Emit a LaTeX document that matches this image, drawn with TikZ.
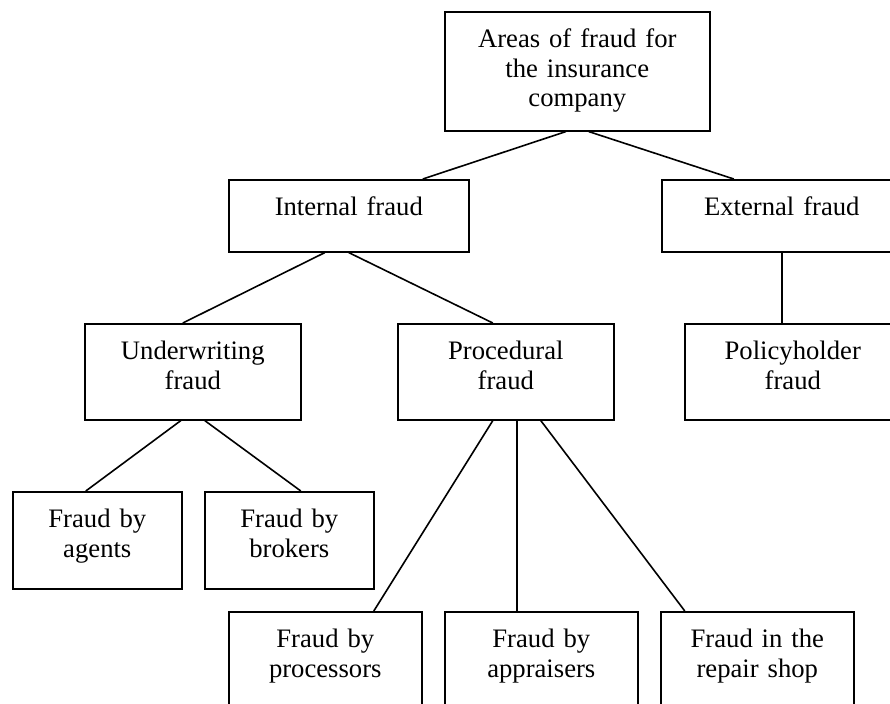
\documentclass[tikz,border=0pt]{standalone}
\usepackage{fontspec}
\setmainfont{Liberation Serif}
\usetikzlibrary{calc}

\begin{document}
\begin{tikzpicture}[x=0.75pt,y=-0.75pt,
	box/.style 2 args={draw,line width=1.2pt,anchor=north west,inner sep=0pt,align=center,
		font=\fontsize{20}{22}\selectfont,text width=#1,text height=27pt,text depth=#2},
	link/.style={line width=1.2pt}]
	\useasboundingbox (0,0) rectangle (890,704);
	\clip (0,0) rectangle (890,704);
	\node[box={198.75pt}{62.25pt}] (areas) at (444,11) {Areas of fraud for\\the insurance\\company};
	\node[box={180pt}{27pt}] (internal) at (228,179) {Internal fraud};
	\node[box={180pt}{27pt}] (external) at (661,179) {External fraud};
	\node[box={162pt}{45pt}] (underwriting) at (84,323) {Underwriting\\fraud};
	\node[box={162pt}{45pt}] (procedural) at (397,323) {Procedural\\fraud};
	\node[box={162pt}{45pt}] (holder) at (684,323) {Policyholder\\fraud};
	\node[box={126.75pt}{45.75pt}] (agents) at (12,491) {Fraud by\\agents};
	\node[box={126.75pt}{45.75pt}] (brokers) at (204,491) {Fraud by\\brokers};
	\node[box={144.75pt}{48pt}] (processors) at (228,611) {Fraud by\\processors};
	\node[box={144.75pt}{48pt}] (appraisers) at (444,611) {Fraud by\\appraisers};
	\node[box={144.75pt}{48pt}] (repair) at (660,611) {Fraud in the\\repair shop};
	% first level
	\draw[link] ($(areas.south)+(-11.5,0)$) -- ($(internal.north)+(74,0)$);
	\draw[link] ($(areas.south)+(11.5,0)$) -- ($(external.north)+(-48,0)$);
	% second level
	\draw[link] ($(internal.south)+(-24,0)$) -- ($(underwriting.north)+(-10,0)$);
	\draw[link] (internal.south) -- ($(procedural.north)+(-13,0)$);
	\draw[link] (external.south) -- ($(holder.north)+(-11,0)$);
	% third level
	\draw[link] ($(underwriting.south)+(-12,0)$) -- ($(agents.north)+(-11.5,0)$);
	\draw[link] ($(underwriting.south)+(12,0)$) -- ($(brokers.north)+(11.5,0)$);
	\draw[link] ($(procedural.south)+(-13,0)$) -- ($(processors.north)+(48.5,0)$);
	\draw[link] ($(procedural.south)+(11,0)$) -- ($(appraisers.north)+(-24.5,0)$);
	\draw[link] ($(procedural.south)+(35,0)$) -- ($(repair.north)+(-72.5,0)$);
\end{tikzpicture}
\end{document}
